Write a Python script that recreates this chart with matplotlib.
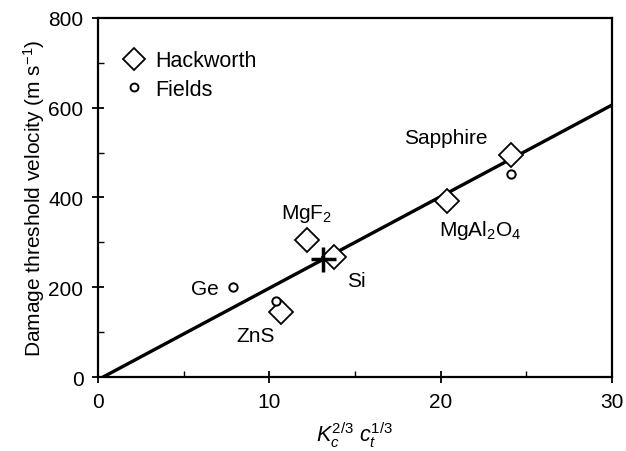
import matplotlib
matplotlib.use("Agg")
import matplotlib.pyplot as plt
from matplotlib.ticker import MultipleLocator

plt.rcParams['font.family'] = ['Liberation Sans', 'DejaVu Sans']
plt.rcParams['mathtext.fontset'] = 'custom'
plt.rcParams['mathtext.rm'] = 'Liberation Sans'
plt.rcParams['mathtext.it'] = 'Liberation Sans:italic'

# data
hack_x = [10.7, 12.2, 13.8, 20.4, 24.1]
hack_y = [145, 305, 268, 392, 494]
fields_x = [7.9, 10.4, 24.1]
fields_y = [200, 169, 452]
fit_x = [0.3, 30]
fit_y = [0, 606]
si_point = (13.15, 262)

labels = ["Sapphire", "MgAl$_2$O$_4$", "MgF$_2$", "Ge", "Si", "ZnS"]
label_xy = [(20.3, 534), (22.3, 328), (12.2, 365), (6.25, 198), (15.1, 216), (9.2, 92)]

fig = plt.figure(figsize=(6.26, 4.52), dpi=100)
ax = fig.add_axes([0.1565, 0.1637, 0.821, 0.7943])

ax.plot(fit_x, fit_y, color="black", linewidth=2.4, zorder=2)
ax.plot(hack_x, hack_y, linestyle="none", marker="D", markersize=12,
        markerfacecolor="white", markeredgecolor="black", markeredgewidth=1.3,
        label="Hackworth", zorder=3)
ax.plot(fields_x, fields_y, linestyle="none", marker="o", markersize=6,
        markerfacecolor="white", markeredgecolor="black", markeredgewidth=1.4,
        label="Fields", zorder=4)
ax.plot(*si_point, marker="+", markersize=18, markeredgewidth=2.5,
        color="black", zorder=5)

for txt, (lx, ly) in zip(labels, label_xy):
    ax.text(lx, ly, txt, fontsize=15, ha="center", va="center")

ax.set_xlim(0, 30)
ax.set_ylim(0, 800)
ax.xaxis.set_major_locator(MultipleLocator(10))
ax.xaxis.set_minor_locator(MultipleLocator(5))
ax.yaxis.set_major_locator(MultipleLocator(200))
ax.yaxis.set_minor_locator(MultipleLocator(100))
ax.tick_params(which="major", direction="inout", length=9, width=1.3,
               labelsize=15, pad=6)
ax.tick_params(which="minor", direction="in", length=4, width=1.0)
for s in ax.spines.values():
    s.set_linewidth(1.6)

ax.set_ylabel("Damage threshold velocity (m s$^{-1}$)", fontsize=15, labelpad=1)
ax.set_xlabel(r"$K_c^{2/3}\ c_t^{1/3}$", fontsize=15.5, labelpad=6)

leg = ax.legend(loc="upper left", bbox_to_anchor=(-0.023, 1.0), frameon=False,
                fontsize=15.5, handletextpad=0.3, borderaxespad=0.4,
                borderpad=1.1, labelspacing=0.35, handlelength=1.4,
                markerscale=0.95)

fig.savefig("out.png", dpi=100)
